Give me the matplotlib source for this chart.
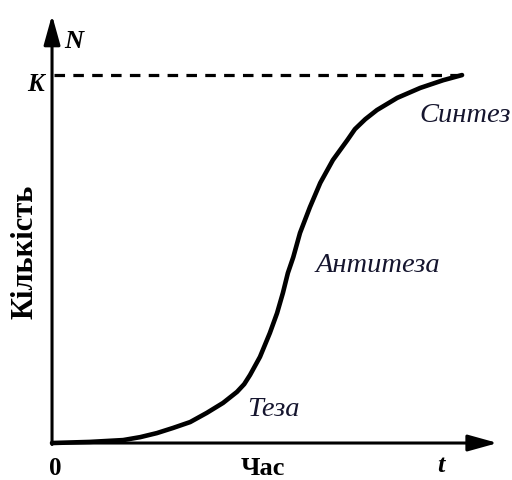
import matplotlib
matplotlib.use("Agg")
import matplotlib.pyplot as plt

# logistic curve (t in time units, N as share of K)
t = [0, 0.84, 1.58, 1.96, 2.33, 2.69, 3.07, 3.44, 3.8, 4.11, 4.27, 4.4, 4.62,
     4.84, 5.0, 5.13, 5.24, 5.36, 5.51, 5.73, 5.96, 6.24, 6.56, 6.73, 6.96,
     7.22, 7.67, 8.18, 8.69, 9.11]
N = [0, 0.003, 0.008, 0.016, 0.027, 0.041, 0.057, 0.082, 0.109, 0.139, 0.16,
     0.185, 0.234, 0.299, 0.353, 0.408, 0.462, 0.505, 0.571, 0.641, 0.707,
     0.769, 0.823, 0.853, 0.880, 0.905, 0.938, 0.965, 0.986, 1.0]
K = 1.0
t_end = 9.9
n_end = 1.163

phases = ["Теза", "Антитеза", "Синтез"]
phase_pos = [(4.91, 0.09), (7.24, 0.482), (9.17, 0.89)]

serif = ["Liberation Serif", "DejaVu Serif"]
ink = "#15152e"

fig = plt.figure(figsize=(5.12, 4.8), dpi=100)
ax = fig.add_axes([0, 0, 1, 1])
ax.set_xlim(-1.156, 10.22)
ax.set_ylim(-0.1005, 1.204)
ax.axis("off")

# axes with arrows
arrow = dict(arrowstyle="-|>,head_length=1.8,head_width=0.5", color="black",
             lw=2.2, shrinkA=0, shrinkB=0)
ax.annotate("", xy=(0, n_end), xytext=(0, -0.004), arrowprops=arrow)
ax.annotate("", xy=(t_end, 0), xytext=(-0.01, 0), arrowprops=arrow)

# carrying capacity
ax.plot([0.05, t[-1]], [K, K], color="black", lw=2.3, linestyle=(0, (3.3, 2.6)))

ax.plot(t, N, color="black", lw=3.3, solid_capstyle="round",
        solid_joinstyle="round")

# labels
ax.text(0.49, 1.09, "N", family=serif, style="italic", weight="bold",
        fontsize=19, ha="center", va="center")
ax.text(-0.36, 0.975, "K", family=serif, style="italic", weight="bold",
        fontsize=18, ha="center", va="center")
ax.text(0.07, -0.068, "0", family=serif, weight="bold",
        fontsize=18, ha="center", va="center")
ax.text(8.64, -0.062, "t", family=serif, style="italic", weight="bold",
        fontsize=19, ha="center", va="center")
ax.text(4.69, -0.068, "Час", family=serif, weight="bold",
        fontsize=19, ha="center", va="center")
ax.text(-0.6, 0.52, "Кількість", family=serif, weight="bold",
        fontsize=22, ha="center", va="center", rotation=90)

for name, (x, y) in zip(phases, phase_pos):
    ax.text(x, y, name, family=serif, style="italic", color=ink,
            fontsize=20.5, ha="center", va="center")

fig.savefig("out.png", dpi=100)
